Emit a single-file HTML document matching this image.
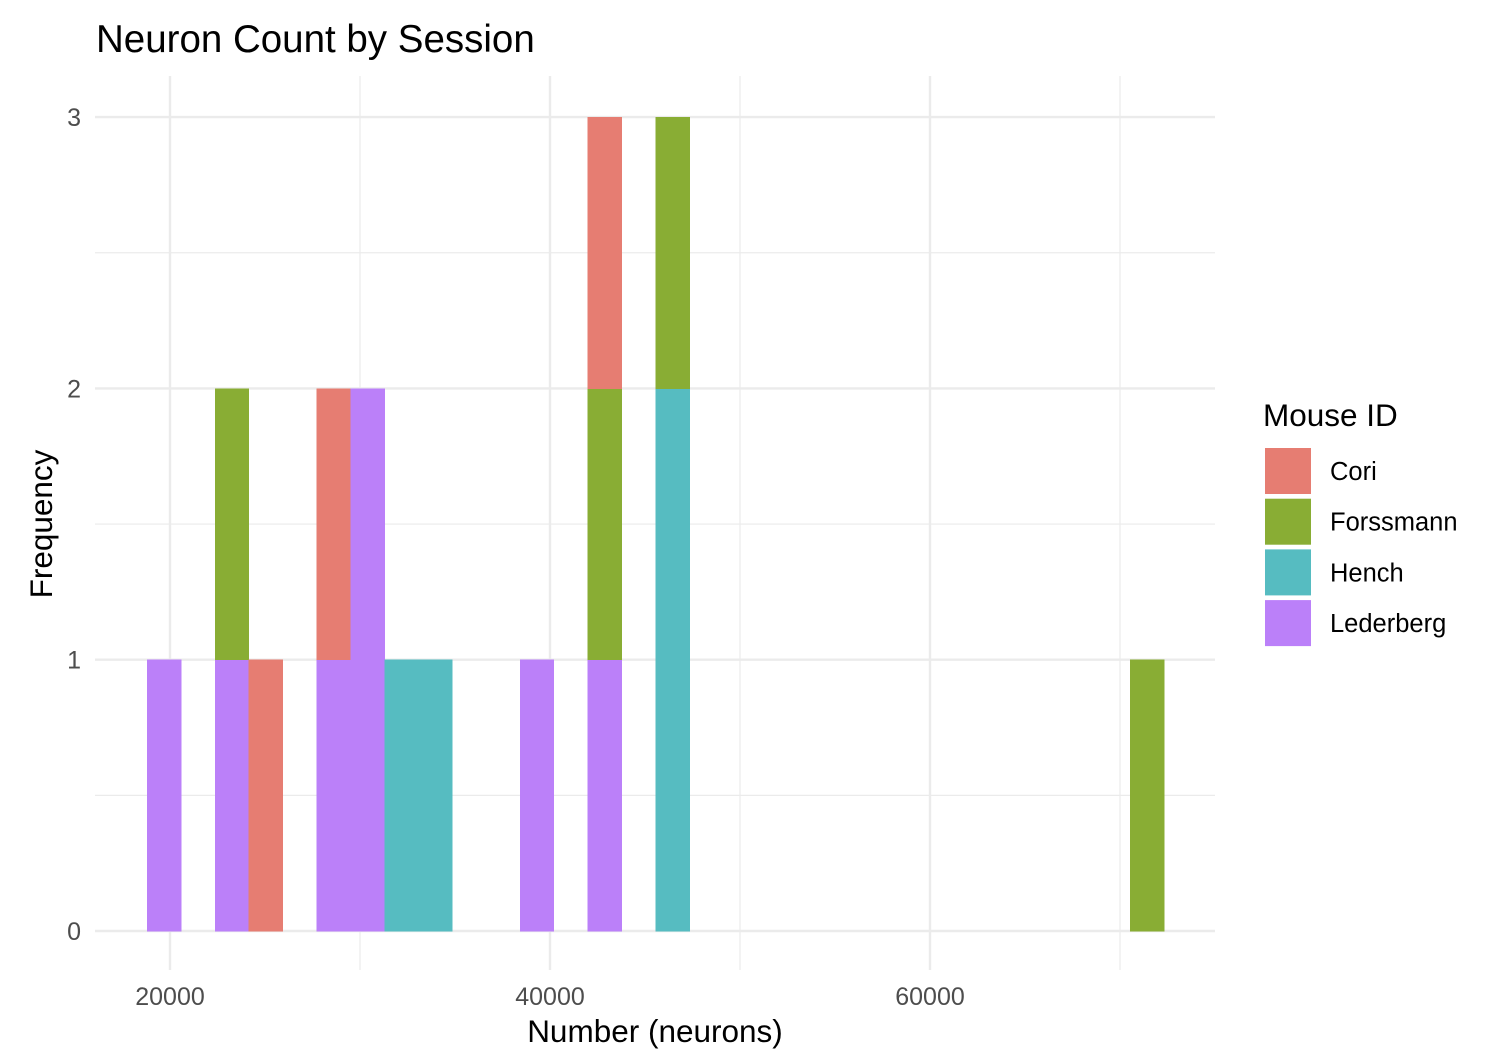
<!DOCTYPE html>
<html><head><meta charset="utf-8"><style>
body{margin:0;background:#fff;width:1486px;height:1056px;overflow:hidden;font-family:"Liberation Sans",sans-serif}
</style></head><body>
<svg id="chart" width="1486" height="1056" font-family="Liberation Sans, sans-serif">
<text x="96" y="52" font-size="38.5" fill="#000">Neuron Count by Session</text>
<g id="grid"></g>
<g id="bars" shape-rendering="crispEdges"></g>
<g id="ticks"></g>
<text x="655" y="1042" font-size="31.5" text-anchor="middle" fill="#000">Number (neurons)</text>
<text transform="translate(52,524) rotate(-90)" font-size="31.5" text-anchor="middle" fill="#000">Frequency</text>
<text x="1263" y="426" font-size="31.5" fill="#000">Mouse ID</text>
<g id="legend"></g>
</svg>
<script>
const groups = ["Lederberg","Hench","Forssmann","Cori"];
const colors = {Cori:"#E67D72",Forssmann:"#89AD34",Hench:"#56BCC1",Lederberg:"#BB80F9"};
const binWidth = 1784;
const binStartsK = [0,2,3,5,6,7,8,11,13,15,29];
const countLederberg = [1,1,0,1,2,0,0,1,1,0,0];
const countHench     = [0,0,0,0,0,1,1,0,0,2,0];
const countForssmann = [0,1,0,0,0,0,0,0,1,1,1];
const countCori      = [0,0,1,1,0,0,0,0,1,0,0];
const xTicks = [20000,40000,60000];
const xMinor = [30000,50000,70000];
const yTicks = [0,1,2,3];
const yMinor = [0.5,1.5,2.5];
const legendOrder = ["Cori","Forssmann","Hench","Lederberg"];
const counts = {Lederberg:countLederberg,Hench:countHench,Forssmann:countForssmann,Cori:countCori};
const binOrigin = 18789;
const X = v => 170 + (v-20000)*0.019;
const Y = v => 931 - v*271.3;
const NS="http://www.w3.org/2000/svg";
function mk(tag,attrs,parent){const e=document.createElementNS(NS,tag);for(const k in attrs)e.setAttribute(k,attrs[k]);parent.appendChild(e);return e;}
const grid=document.getElementById('grid'),bars=document.getElementById('bars'),ticks=document.getElementById('ticks'),legend=document.getElementById('legend');
yMinor.forEach(v=>{const l=mk('line',{x1:95,x2:1215,y1:Y(v),y2:Y(v),stroke:'#ebebeb','stroke-width':1.2},grid);

});
xMinor.forEach(v=>{const l=mk('line',{x1:X(v),x2:X(v),y1:76,y2:970,stroke:'#ebebeb','stroke-width':1.2},grid);

});
yTicks.forEach(v=>{const l=mk('line',{x1:95,x2:1215,y1:Y(v),y2:Y(v),stroke:'#ebebeb','stroke-width':2.4},grid);


const t=mk('text',{x:81,y:Y(v)+9,'font-size':25,fill:'#4d4d4d','text-anchor':'end'},ticks);t.textContent=v;

});
xTicks.forEach(v=>{const l=mk('line',{x1:X(v),x2:X(v),y1:76,y2:970,stroke:'#ebebeb','stroke-width':2.4},grid);


const t=mk('text',{x:X(v),y:1005,'font-size':25,fill:'#4d4d4d','text-anchor':'middle'},ticks);t.textContent=v;

});
binStartsK.forEach((k,i)=>{let base=0;const x0=X(binOrigin+k*binWidth),x1=X(binOrigin+(k+1)*binWidth);
groups.forEach(g=>{const c=counts[g][i];if(c>0){const r=mk('rect',{x:x0,y:Y(base+c),width:x1-x0+0.5,height:Y(base)-Y(base+c)+0.5,fill:colors[g]},bars);

base+=c;}});});
legendOrder.forEach((g,i)=>{const y=448+i*50.7;const r=mk('rect',{x:1265,y:y,width:46,height:46,fill:colors[g]},legend);


const t=mk('text',{x:1330,y:y+32,'font-size':25.5,fill:'#000'},legend);t.textContent=g;

});
</script>
</body></html>
